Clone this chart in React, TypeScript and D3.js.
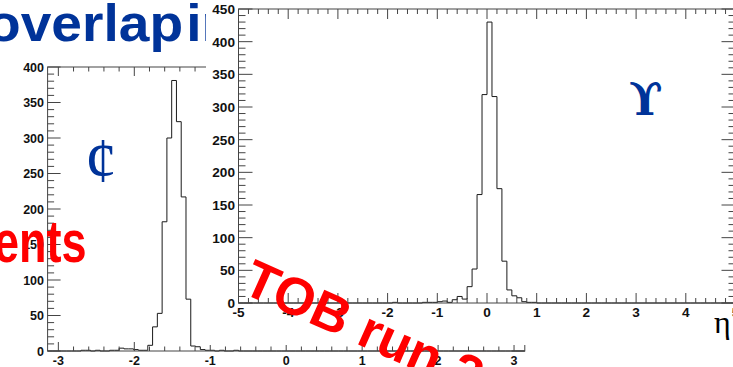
import React from "react";
import * as d3 from "d3";

// phi histogram: 100 bins over [-pi, pi]
const phiCounts = [
  0, 0, 0, 0, 0, 0, 0, 1, 1, 0,
  1, 0, 0, 1, 1, 4, 3, 3, 2, 1,
  1, 8, 34, 53, 182, 300, 381, 323, 217, 73,
  7, 6, 2, 1, 1, 0, 1, 0, 0, 1,
  0, 0, 0, 0, 0, 0, 0, 0, 0, 0,
  0, 0, 0, 0, 0, 0, 0, 0, 0, 0,
  0, 0, 0, 0, 0, 0, 0, 0, 0, 0,
  0, 0, 0, 0, 0, 0, 0, 0, 0, 0,
  0, 0, 0, 0, 0, 0, 0, 0, 0, 0,
  0, 0, 0, 0, 0, 0, 0, 0, 0, 0,
];
// eta histogram: 100 bins over [-5, 5]
const etaCounts = [
  0, 0, 0, 0, 0, 0, 0, 0, 0, 0,
  0, 0, 0, 0, 0, 0, 0, 0, 0, 0,
  0, 0, 0, 0, 0, 0, 0, 0, 0, 0,
  0, 1, 0, 0, 0, 0, 0, 1, 1, 1,
  2, 3, 1, 5, 10, 6, 25, 52, 166, 319,
  430, 316, 175, 64, 20, 11, 8, 2, 1, 1,
  0, 0, 0, 0, 0, 0, 0, 0, 0, 0,
  0, 0, 0, 0, 0, 0, 0, 0, 0, 0,
  0, 0, 0, 0, 0, 0, 0, 0, 0, 0,
  0, 0, 0, 0, 0, 0, 0, 0, 0, 0,
];
const phiXTicks = [-3, -2, -1, 0, 1, 2, 3];
const phiYTicks = [0, 50, 100, 150, 200, 250, 300, 350, 400];
const etaXTicks = [-5, -4, -3, -2, -1, 0, 1, 2, 3, 4, 5];
const etaYTicks = [0, 50, 100, 150, 200, 250, 300, 350, 400, 450];
const titleText = "overlap ir";
const leftOverlay = "ents";
const diagOverlay = "TOB run 2";
const phiSymbol = "¢";
const etaSymbol = "ϒ";
const etaAxisTitle = "η";

const AX = "#444";
const SANS = "'Liberation Sans', Arial, Helvetica, sans-serif";
const SERIF = "'Liberation Serif', 'DejaVu Serif', serif";
const BLUE = "#003399";

function Hist({ counts, lo, hi, x, y }: any) {
  const n = counts.length;
  const w = (hi - lo) / n;
  const pts: [number, number][] = counts.map((c: number, i: number) => [lo + i * w, c]);
  pts.push([hi, counts[n - 1]]);
  const line = d3
    .line<[number, number]>()
    .x((d) => x(d[0]))
    .y((d) => y(d[1]))
    .curve(d3.curveStepAfter);
  return <path d={line(pts) || ""} fill="none" stroke="#1a1a1a" strokeWidth={1} />;
}

function Frame({ x, y, xMajor, xMinorStep, yMajor, yMinorStep, xl, yl, fs, xLabelY, yLabelX }: any) {
  const [x0, x1] = x.domain();
  const [y0, y1] = y.domain();
  const X0 = x(x0), X1 = x(x1), Y0 = y(y0), Y1 = y(y1);
  const minorX = d3
    .range(Math.ceil(x0 / xMinorStep - 1e-6), Math.floor(x1 / xMinorStep + 1e-6) + 1)
    .map((k) => k * xMinorStep);
  const minorY = d3
    .range(Math.ceil(y0 / yMinorStep - 1e-6), Math.floor(y1 / yMinorStep + 1e-6) + 1)
    .map((k) => k * yMinorStep);
  const isMajX = (v: number) => xMajor.some((m: number) => Math.abs(m - v) < 1e-6);
  const isMajY = (v: number) => yMajor.some((m: number) => Math.abs(m - v) < 1e-6);
  return (
    <g>
      <rect x={X0} y={Y1} width={X1 - X0} height={Y0 - Y1} fill="none" stroke={AX} strokeWidth={1} />
      {minorX.map((v: number, i: number) => {
        const L = isMajX(v) ? xl[0] : xl[1];
        return (
          <g key={"x" + i}>
            <line x1={x(v)} x2={x(v)} y1={Y0} y2={Y0 - L} stroke={AX} />
            <line x1={x(v)} x2={x(v)} y1={Y1} y2={Y1 + L} stroke={AX} />
          </g>
        );
      })}
      {minorY.map((v: number, i: number) => {
        const L = isMajY(v) ? yl[0] : yl[1];
        return (
          <g key={"y" + i}>
            <line x1={X0} x2={X0 + L} y1={y(v)} y2={y(v)} stroke={AX} />
            <line x1={X1} x2={X1 - L} y1={y(v)} y2={y(v)} stroke={AX} />
          </g>
        );
      })}
      {xMajor.map((v: number) => (
        <text key={"xl" + v} x={x(v)} y={xLabelY} textAnchor="middle" fontFamily={SANS} fontWeight="bold" fontSize={fs} fill="#111">
          {String(v)}
        </text>
      ))}
      {yMajor.map((v: number) => (
        <text key={"yl" + v} x={yLabelX} y={y(v)} dy="0.36em" textAnchor="end" fontFamily={SANS} fontWeight="bold" fontSize={fs} fill="#111">
          {String(v)}
        </text>
      ))}
    </g>
  );
}

export default function App() {
  const W = 733, H = 367;
  const xPhi = d3.scaleLinear().domain([-Math.PI, Math.PI]).range([47.6, 524.8]);
  const yPhi = d3.scaleLinear().domain([0, 400]).range([351, 67]);
  const xEta = d3.scaleLinear().domain([-5, 5]).range([238.5, 735.5]);
  const yEta = d3.scaleLinear().domain([0, 450]).range([303, 9]);

  return (
    <svg width={W} height={H} style={{ position: "absolute", left: 0, top: 0 }} xmlns="http://www.w3.org/2000/svg">
      <rect x={0} y={0} width={W} height={H} fill="#fff" />
      {/* slide title (partly hidden) */}
      <text transform="translate(-13,41) scale(1.06,1)" fontFamily={SANS} fontWeight="bold" fontSize={52} wordSpacing={-11.5} fill={BLUE}>
        {titleText}
      </text>

      {/* left plot: phi */}
      <g>
        <rect x={xPhi(-Math.PI)} y={yPhi(400)} width={xPhi(Math.PI) - xPhi(-Math.PI)} height={yPhi(0) - yPhi(400)} fill="#fff" />
        <Hist counts={phiCounts} lo={-Math.PI} hi={Math.PI} x={xPhi} y={yPhi} />
        <Frame x={xPhi} y={yPhi} xMajor={phiXTicks} xMinorStep={0.2} yMajor={phiYTicks} yMinorStep={10}
          xl={[9, 4.5]} yl={[13, 6.5]} fs={12.5} xLabelY={364.5} yLabelX={44} />
        <text x={85} y={182} fontFamily={SERIF} fontSize={64} fill={BLUE}>{phiSymbol}</text>
      </g>

      {/* right plot panel: eta */}
      <rect x={206} y={0} width={W - 206} height={345} fill="#fff" />
      <g>
        <Hist counts={etaCounts} lo={-5} hi={5} x={xEta} y={yEta} />
        <Frame x={xEta} y={yEta} xMajor={etaXTicks} xMinorStep={0.2} yMajor={etaYTicks} yMinorStep={10}
          xl={[10, 5]} yl={[14, 7]} fs={13.6} xLabelY={317} yLabelX={235} />
        <text x={629} y={115} fontFamily="'DejaVu Serif', serif" fontWeight="bold" fontSize={44} fill={BLUE}>{etaSymbol}</text>
        <text x={714} y={333} fontFamily={SERIF} fontSize={32} fill="#000">{etaAxisTitle}</text>
      </g>

      {/* red overlays */}
      <text transform="translate(-6,262) scale(0.75,1)" fontFamily={SANS} fontWeight="bold" fontSize={60} fill="#ff0000">
        {leftOverlay}
      </text>
      <text transform="translate(240,292) rotate(24)" fontFamily={SANS} fontWeight="bold" fontSize={53} fill="#ff0000">
        {diagOverlay}
      </text>
    </svg>
  );
}
